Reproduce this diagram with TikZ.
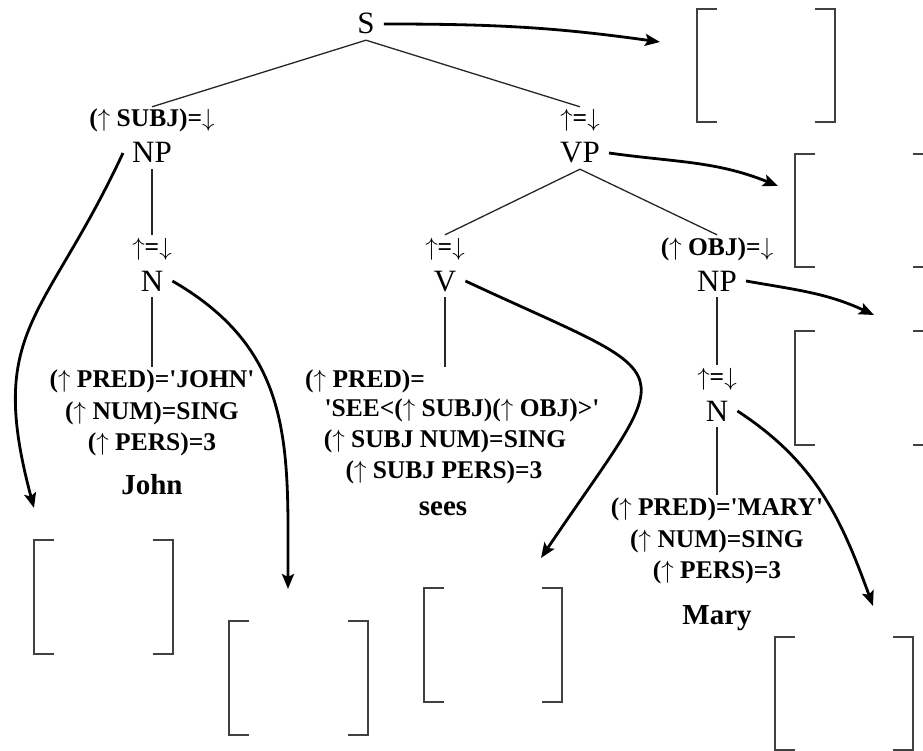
\documentclass[tikz,border=0pt]{standalone}
\usepackage{fontspec}
\setmainfont{Liberation Serif}
\usetikzlibrary{arrows.meta}

\newcommand{\fup}{$\uparrow$}
\newcommand{\fdown}{$\downarrow$}
\newcommand{\fq}{\textquotesingle}

\newcommand{\fstruct}[2]{%
  \node[fstr] (#1) at (#2) {};
  \draw[bracket] ([xshift=20pt]#1.north west) -| (#1.south west) -- ++(20,0);
  \draw[bracket] ([xshift=-20pt]#1.north east) -| (#1.south east) -- ++(-20,0);}

\begin{document}
\begin{tikzpicture}[>={Stealth[length=15pt,width=12pt,inset=3pt]},x=1pt,y=-1pt,
                    node distance=32pt]

  \tikzstyle{cat}=[font=\fontsize{31}{31}\selectfont,inner xsep=9pt,inner ysep=6pt,
                   text height=20pt,text depth=0pt]
  \tikzstyle{ann}=[font=\fontsize{25.5}{31.5}\selectfont\bfseries,inner sep=3pt,
                   text height=17pt,text depth=5pt]
  \tikzstyle{fdesc}=[font=\fontsize{25.5}{31.5}\selectfont\bfseries,inner sep=3pt,align=center]
  \tikzstyle{word}=[font=\fontsize{29}{30}\selectfont\bfseries,text height=20pt,text depth=6pt]
  \tikzstyle{branch}=[line width=1.3pt,black!85]
  \tikzstyle{fmap}=[->,line width=2.8pt]
  \tikzstyle{fstr}=[minimum width=138pt,minimum height=113pt,inner sep=0pt]
  \tikzstyle{bracket}=[line width=2pt,black!75]

  \useasboundingbox (0,0) rectangle (923,751);
  \clip (0,0) rectangle (923,751);

  % c-structure
  \node[cat] (S)   at (366,24)  {S};
  \node[cat] (NPs) at (152,153) {NP};
  \node[ann] (subjA) [above of=NPs] {(\fup{} SUBJ)=\fdown};
  \node[cat] (VP)  at (580,153) {VP};
  \node[ann] (vpA) [above of=VP] {\fup=\fdown};

  \node[cat] (N1)  at (152,281) {N};
  \node[ann] (nA1) [above of=N1] {\fup=\fdown};
  \node[cat] (V)   at (445,281) {V};
  \node[ann] (vA)  [above of=V] {\fup=\fdown};
  \node[cat] (NPo) at (717,281) {NP};
  \node[ann] (objA) [above of=NPo] {(\fup{} OBJ)=\fdown};

  \node[cat] (N2)  at (717,411) {N};
  \node[ann] (nA2) [above of=N2] {\fup=\fdown};

  % lexical entries
  \node[fdesc] (johnF) at (152,413)
    {(\fup{} PRED)=\fq JOHN\fq\\(\fup{} NUM)=SING\\(\fup{} PERS)=3};
  \node[word]  (john)  at (152,487) {John};

  \node[ann] (vPred) [anchor=west] at (302,381) {(\fup{} PRED)=};
  \node[ann] (vSee)  at (462,410) {\fq SEE<(\fup{} SUBJ)(\fup{} OBJ)>\fq};
  \node[ann] (vNum)  at (445,441) {(\fup{} SUBJ NUM)=SING};
  \node[ann] (vPers) at (444,472) {(\fup{} SUBJ PERS)=3};
  \node[word] (sees) at (443,508) {sees};

  \node[fdesc] (maryF) at (717,541)
    {(\fup{} PRED)=\fq MARY\fq\\(\fup{} NUM)=SING\\(\fup{} PERS)=3};
  \node[word]  (mary)  at (717,617) {Mary};

  \draw[branch] (S.south) -- (subjA.north);
  \draw[branch] (S.south) -- (vpA.north);
  \draw[branch] (NPs.south) -- (nA1.north);
  \draw[branch] (N1.south) -- (johnF.north);
  \draw[branch] (VP.south) -- (vA.north);
  \draw[branch] (VP.south) -- (objA.north);
  \draw[branch] (V.south) -- (V.south |- vPred.north);
  \draw[branch] (NPo.south) -- (nA2.north);
  \draw[branch] (N2.south) -- (maryF.north);

  % f-structures
  \fstruct{fS}{766,65.5}
  \fstruct{fVP}{864,210.5}
  \fstruct{fNPo}{864,388}
  \fstruct{fNPs}{103.5,597}
  \fstruct{fN1}{298.5,678}
  \fstruct{fV}{493,645}
  \fstruct{fN2}{844,693.5}

  \coordinate (tS)   at (660,42);
  \coordinate (tVP)  at (778,186);
  \coordinate (tNPo) at (874,315);
  \coordinate (tNPs) at (34,508);
  \coordinate (tN1)  at (288,589);
  \coordinate (tV)   at (541,558);
  \coordinate (tN2)  at (873,606);

  \path[fmap]
  (S.east)   edge [out=0,in=172]                  (tS)
  (VP.east)  edge [out=-8,in=158]                 (tVP)
  (NPo.east) edge [out=-10,in=155]                (tNPo)
  (NPs.west) edge [out=245,in=105,looseness=1.3]  (tNPs)
  (N1.east)  edge [out=-30,in=90,looseness=1.1]   (tN1)
  (V.east)   edge [out=-25,in=56,looseness=2.2]   (tV)
  (N2.east)  edge [out=-33,in=110]                (tN2)
  ;
\end{tikzpicture}
\end{document}
